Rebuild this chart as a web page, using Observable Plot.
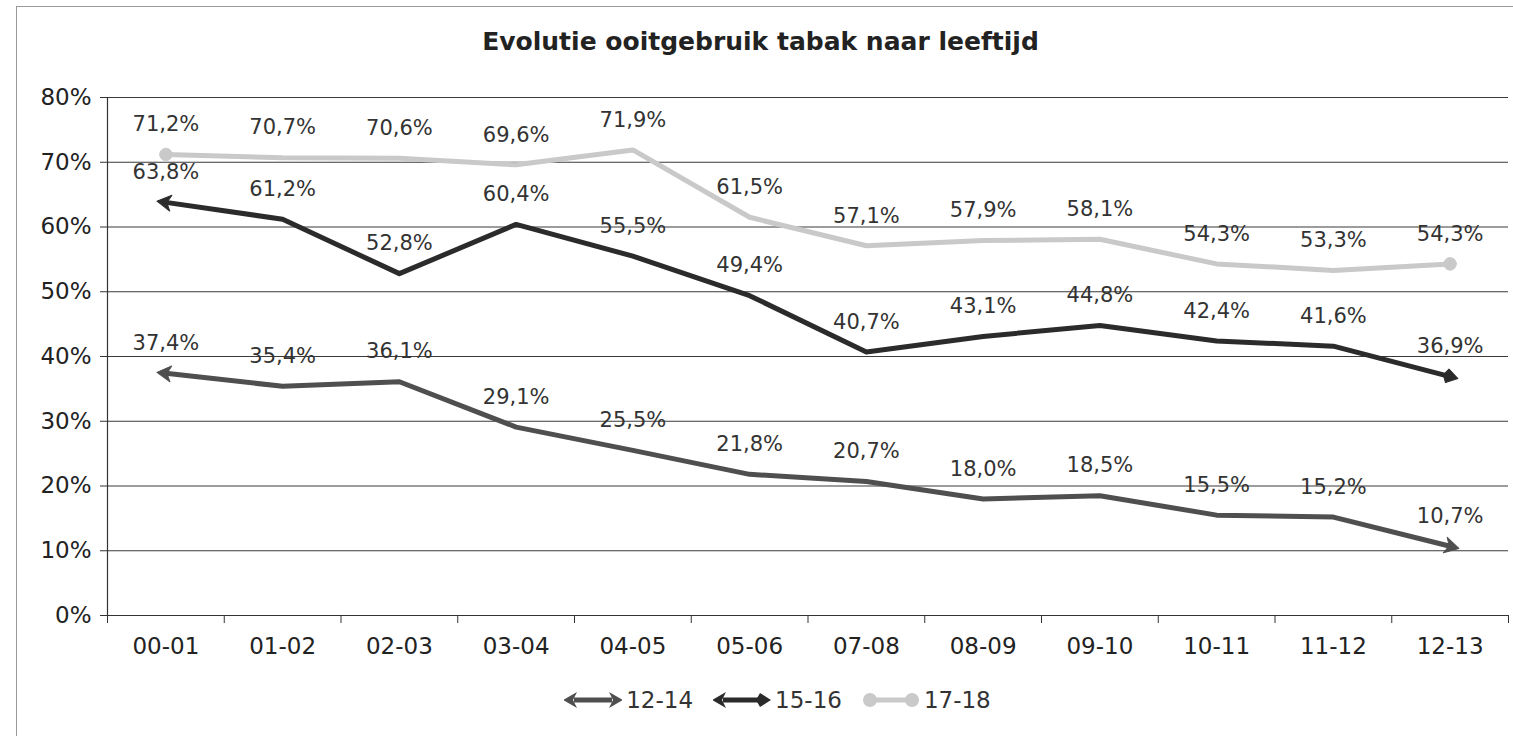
<!DOCTYPE html>
<html>
<head>
<meta charset="utf-8">
<script src="https://cdn.jsdelivr.net/npm/d3@7"></script>
<script src="https://cdn.jsdelivr.net/npm/@observablehq/plot@0.6"></script>
<style>
  html, body { margin: 0; padding: 0; background: #fff; overflow: hidden; }
  body { width: 1513px; height: 736px; position: relative; font-family: "DejaVu Sans", Verdana, sans-serif; }
  #frame { position: absolute; left: 16px; top: 6px; width: 1600px; height: 800px; border: 1px solid #9a9a9a; pointer-events: none; }
  #title { height: 78px; box-sizing: border-box; padding-top: 27px; line-height: 30px; text-align: center; padding-left: 8px; font-size: 25px; font-weight: bold; color: #222; }
  #legend { height: 44px; display: flex; justify-content: center; align-items: center; padding-left: 42px; font-size: 23px; color: #333; }
  .item { display: flex; align-items: center; margin: 0 10px; }
  .item svg { margin-right: 4px; }
</style>
</head>
<body>
<div id="frame"></div>
<div id="title">Evolutie ooitgebruik tabak naar leeftijd</div>
<div id="chart"></div>
<div id="legend"></div>
<script>
const periods = ["00-01","01-02","02-03","03-04","04-05","05-06","07-08","08-09","09-10","10-11","11-12","12-13"];
const series = ["12-14","15-16","17-18"];
const s1214 = [37.4,35.4,36.1,29.1,25.5,21.8,20.7,18.0,18.5,15.5,15.2,10.7];
const s1516 = [63.8,61.2,52.8,60.4,55.5,49.4,40.7,43.1,44.8,42.4,41.6,36.9];
const s1718 = [71.2,70.7,70.6,69.6,71.9,61.5,57.1,57.9,58.1,54.3,53.3,54.3];
const yTicks = [0,10,20,30,40,50,60,70,80];
const colors = {"12-14": "#4f4f4f", "15-16": "#2b2b2b", "17-18": "#c9c9c9"};

const rows = (vals, g) => vals.map((v, i) => ({i, period: periods[i], v, group: g}));
const d1214 = rows(s1214, "12-14");
const d1516 = rows(s1516, "15-16");
const d1718 = rows(s1718, "17-18");

const NS = "http://www.w3.org/2000/svg";
function makeMarker(kind, size) {
  return (color, ctx) => {
    const doc = (ctx && ctx.document) || document;
    const m = doc.createElementNS(NS, "marker");
    m.setAttribute("viewBox", "-10 -10 20 20");
    m.setAttribute("markerWidth", size);
    m.setAttribute("markerHeight", size);
    m.setAttribute("markerUnits", "userSpaceOnUse");
    m.setAttribute("orient", "auto-start-reverse");
    m.setAttribute("overflow", "visible");
    let el;
    if (kind === "circle") {
      el = doc.createElementNS(NS, "circle");
      el.setAttribute("r", 7);
    } else if (kind === "diamond") {
      el = doc.createElementNS(NS, "path");
      el.setAttribute("d", "M-3,-7L8,0L-3,7L-7,0Z");
    } else {
      el = doc.createElementNS(NS, "path");
      el.setAttribute("d", "M-5,-8L9,0L-5,8L-1,0Z");
    }
    el.setAttribute("fill", color);
    el.setAttribute("stroke", color);
    el.setAttribute("stroke-width", 1);
    m.appendChild(el);
    return m;
  };
}
const arrowM = makeMarker("arrow", 20);
const diamondM = makeMarker("diamond", 20);
const circleM = makeMarker("circle", 18);

const fmt = v => v.toFixed(1).replace(".", ",") + "%";
const labelStyle = {x: "i", y: "v", text: d => fmt(d.v), dy: -30, fontSize: 21, fill: "#333"};

const chart = Plot.plot({
  width: 1513,
  height: 600,
  marginLeft: 107,
  marginRight: 5,
  marginTop: 19,
  marginBottom: 63,
  x: {type: "linear", domain: [-0.5, 11.5]},
  y: {domain: [0, 80]},
  style: {fontFamily: "DejaVu Sans, Verdana, sans-serif", color: "#222", background: "transparent"},
  marks: [
    Plot.gridY(yTicks.slice(1), {stroke: "#3a3a3a", strokeOpacity: 1, strokeWidth: 1.2}),
    Plot.ruleY([0], {stroke: "#333", strokeWidth: 1.2}),
    Plot.ruleX([-0.5], {y1: 0, y2: 80, stroke: "#333", strokeWidth: 1.2}),
    Plot.axisY(yTicks, {tickFormat: d => d + "%", tickSize: 7, tickPadding: 9, fontSize: 23, label: null, stroke: "#333"}),
    Plot.axisX(d3.range(13).map(k => k - 0.5), {tickFormat: () => "", tickSize: 8, label: null, stroke: "#333"}),
    Plot.axisX(d3.range(12), {tickFormat: i => periods[i], tickSize: 0, tickPadding: 22, fontSize: 23, label: null}),
    Plot.line(d1718, {x: "i", y: "v", stroke: colors["17-18"], strokeWidth: 5, curve: "linear", strokeLinejoin: "round", markerStart: circleM, markerEnd: circleM}),
    Plot.line(d1516, {x: "i", y: "v", stroke: colors["15-16"], strokeWidth: 5, curve: "linear", strokeLinejoin: "round", markerStart: arrowM, markerEnd: diamondM}),
    Plot.line(d1214, {x: "i", y: "v", stroke: colors["12-14"], strokeWidth: 5, curve: "linear", strokeLinejoin: "round", markerStart: arrowM, markerEnd: arrowM}),
    Plot.text(d1718, labelStyle),
    Plot.text(d1516, labelStyle),
    Plot.text(d1214, labelStyle)
  ]
});
document.getElementById("chart").appendChild(chart);

// Legend
const legend = d3.select("#legend");
const legendKinds = {"12-14": ["arrow", "arrow"], "15-16": ["arrow", "diamond"], "17-18": ["circle", "circle"]};
series.forEach(s => {
  const item = legend.append("div").attr("class", "item");
  const svg = item.append("svg").attr("width", 58).attr("height", 24);
  const c = colors[s];
  svg.append("line").attr("x1", 10).attr("x2", 48).attr("y1", 12).attr("y2", 12).attr("stroke", c).attr("stroke-width", 5);
  const [a, b] = legendKinds[s];
  const shape = (kind, x, flip) => {
    if (kind === "circle") {
      svg.append("circle").attr("cx", x).attr("cy", 12).attr("r", 7).attr("fill", c);
    } else {
      const d = kind === "diamond" ? "M-3,-7L8,0L-3,7L-7,0Z" : "M-5,-8L9,0L-5,8L-1,0Z";
      svg.append("path").attr("d", d).attr("fill", c)
        .attr("transform", `translate(${x},12) scale(${flip ? -1 : 1},1)`);
    }
  };
  shape(a, 8, true);
  shape(b, 50, false);
  item.append("span").text(s);
});
</script>
</body>
</html>
